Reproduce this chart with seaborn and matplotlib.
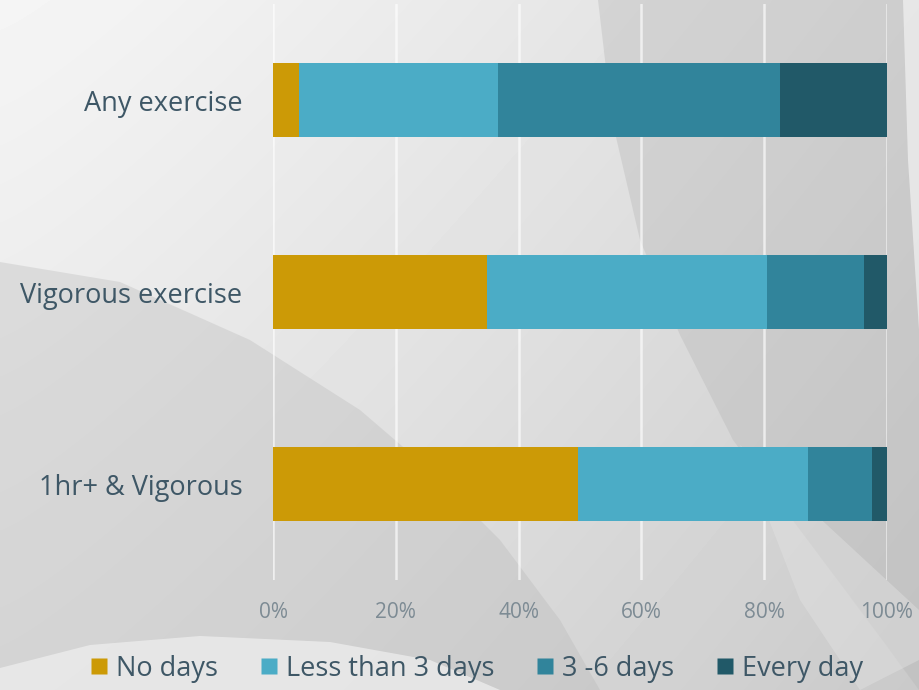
import numpy as np
import pandas as pd
import matplotlib
matplotlib.use("Agg")
import matplotlib.pyplot as plt
from matplotlib.lines import Line2D
from matplotlib.patches import Polygon
import seaborn as sns

# Share of respondents by how many days per week they exercise (%)
categories = ["Any exercise", "Vigorous exercise", "1hr+ & Vigorous"]
series_names = ["No days", "Less than 3 days", "3 -6 days", "Every day"]
no_days = [4.3, 34.9, 49.6]
less_than_3 = [32.3, 45.6, 37.5]
three_to_six = [45.9, 15.8, 10.4]
every_day = [17.5, 3.7, 2.5]
tick_values = [0, 20, 40, 60, 80, 100]
tick_labels = ["0%", "20%", "40%", "60%", "80%", "100%"]

colors = ["#CC9A06", "#4BACC6", "#31849B", "#215968"]
label_color = "#3e5766"
tick_color = "#7d8b94"

sns.set_theme(style="white")
plt.rcParams["font.family"] = ["Open Sans", "DejaVu Sans"]

W, H = 919, 690
fig = plt.figure(figsize=(W / 100, H / 100), dpi=100)

# ---- soft grey backdrop with curved panels ----
bg = fig.add_axes([0, 0, 1, 1], zorder=-10)
bg.set_xlim(0, W)
bg.set_ylim(H, 0)
bg.axis("off")
yy, xx = np.mgrid[0:H, 0:W]
shade = 0.96 - 0.10 * (xx / W) ** 1.2 - 0.07 * (yy / H)
bg.imshow(shade, cmap="gray", vmin=0, vmax=1, extent=(0, W, H, 0),
          aspect="auto", interpolation="bilinear")


def panel(points, color, alpha):
    bg.add_patch(Polygon(points, closed=True, facecolor=color,
                         edgecolor="none", alpha=alpha))


# darker sweep on the right
right_curve = [(598, 0), (612, 120), (640, 240), (680, 335), (733, 440),
               (800, 530), (860, 610), (919, 690)]
panel(right_curve + [(919, 0)], "#b4b4b4", 0.35)
# lower-left dark lobe
left_curve = [(0, 262), (120, 282), (250, 340), (360, 410), (430, 470),
              (500, 540), (560, 620), (600, 690)]
panel(left_curve + [(0, 690)], "#b5b5b5", 0.32)
# pale arc along the bottom left
panel([(0, 668), (90, 645), (200, 636), (330, 642), (430, 660), (500, 690),
       (0, 690)], "#ececec", 0.8)
# pale band across the bottom right
panel([(740, 445), (800, 500), (919, 610), (919, 660), (860, 690),
       (800, 600)], "#e2e2e2", 0.45)
# light strip at the far right edge
panel([(903, 0), (919, 0), (919, 330), (908, 160)], "#f2f2f2", 0.7)

# ---- stacked 100% bars ----
ax = fig.add_axes([273 / W, 1 - 580 / H, 614 / W, 576 / H])
ax.set_facecolor("none")

df = pd.DataFrame({"category": categories, "No days": no_days,
                   "Less than 3 days": less_than_3,
                   "3 -6 days": three_to_six, "Every day": every_day})
cum = df[series_names].cumsum(axis=1).assign(category=df["category"])

for name, col in reversed(list(zip(series_names, colors))):
    sns.barplot(data=cum, x=name, y="category", orient="h", color=col,
                width=0.39, saturation=1, linewidth=0, edgecolor="none",
                ax=ax, zorder=3)

ax.set_xlim(0, 100)
ax.set_ylim(2.5, -0.5)
ax.set_xticks(tick_values)
ax.set_xticklabels(tick_labels)
ax.set_xlabel("")
ax.set_ylabel("")
for v in tick_values:
    ax.axvline(v, color="white", lw=1.8, alpha=0.65, zorder=1)
for s in ax.spines.values():
    s.set_visible(False)
ax.tick_params(axis="x", length=0, pad=16, labelsize=15,
               labelcolor=tick_color)
ax.tick_params(axis="y", length=0, pad=22, labelsize=19.5,
               labelcolor=label_color)

# ---- legend ----
handles = [Line2D([0], [0], marker="s", linestyle="none", markersize=11,
                  markerfacecolor=c, markeredgecolor="none") for c in colors]
fig.legend(handles, series_names, loc="center", bbox_to_anchor=(0.518, 0.031),
           ncol=4, frameon=False, fontsize=19.5, handletextpad=0.25,
           columnspacing=1.5, labelcolor=label_color, handlelength=0.75)

fig.savefig("out.png", dpi=100)
